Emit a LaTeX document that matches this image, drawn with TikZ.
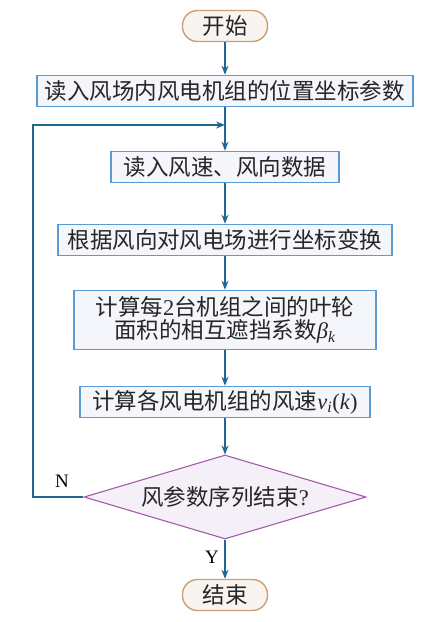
\documentclass[tikz,border=0pt]{standalone}
\usepackage{fontspec}
\setmainfont{Liberation Serif}
\newfontfamily\cjk{Noto Sans CJK SC}
\usetikzlibrary{shapes.geometric,arrows.meta}
\definecolor{boxline}{HTML}{5B9BD5}
\definecolor{boxfill}{HTML}{F4F6FB}
\definecolor{pillline}{HTML}{C8A072}
\definecolor{pillfill}{HTML}{F8F5F0}
\definecolor{dline}{HTML}{A35BAA}
\definecolor{dfill}{HTML}{F5F0F7}
\definecolor{arr}{HTML}{1F6896}
\newcommand{\ivar}[2]{{\rmfamily\itshape #1\textsubscript{#2}}}
\begin{document}
\begin{tikzpicture}[x=1pt,y=-1pt,
  every node/.style={font=\fontsize{22.5}{27}\selectfont\cjk, text=black!85},
  proc/.style={draw=boxline, fill=boxfill, line width=1.6pt, minimum height=31pt, inner xsep=4pt, inner ysep=2pt, align=center},
  pill/.style={draw=pillline, fill=pillfill, line width=1.4pt, rounded corners=15pt, minimum height=31pt, minimum width=85pt},
  dec/.style={diamond, aspect=3.4, draw=dline, fill=dfill, line width=1.1pt, minimum width=282pt, minimum height=84pt, inner sep=0pt},
  conn/.style={draw=arr, line width=1.6pt, -{Stealth[length=9pt,width=7pt]}},
  lbl/.style={font=\fontsize{19}{20}\selectfont\rmfamily, text=black}]
\useasboundingbox (0,0) rectangle (428,622);
\node[pill] (s) at (225,26) {开始};
\node[proc, minimum width=376pt] (b1) at (225,91) {读入风场内风电机组的位置坐标参数};
\node[proc, minimum width=228pt] (b2) at (225,167) {读入风速、风向数据};
\node[proc, minimum width=334pt] (b3) at (225,240) {根据风向对风电场进行坐标变换};
\node[proc, minimum width=302pt, minimum height=59pt] (b4) at (225,320) {计算每{\rmfamily 2}台机组之间的叶轮\\[-4pt]面积的相互遮挡系数\ivar{β}{k}};
\node[proc, minimum width=290pt] (b5) at (225,402) {计算各风电机组的风速\ivar{v}{i}{\rmfamily(\textit{k})}};
\node[dec] (d) at (225,497) {风参数序列结束{\rmfamily ?}};
\node[pill] (e) at (225,595) {结束};
\coordinate (j) at (225,125);
\coordinate (l1) at (33,497);
\coordinate (l2) at (33,125);
\draw[conn] (s) -- (b1);
\draw[conn] (b1) -- (b2);
\draw[conn] (b2) -- (b3);
\draw[conn] (b3) -- (b4);
\draw[conn] (b4) -- (b5);
\draw[conn] (b5) -- (d);
\draw[conn] (d) -- node[lbl, left, pos=0.45, xshift=-2pt] (y) {Y} (e);
\draw[conn] (d.west) -- (l1) -- (l2) -- (j);
\node[lbl] (n) at (62,481) {N};
\end{tikzpicture}
\end{document}
